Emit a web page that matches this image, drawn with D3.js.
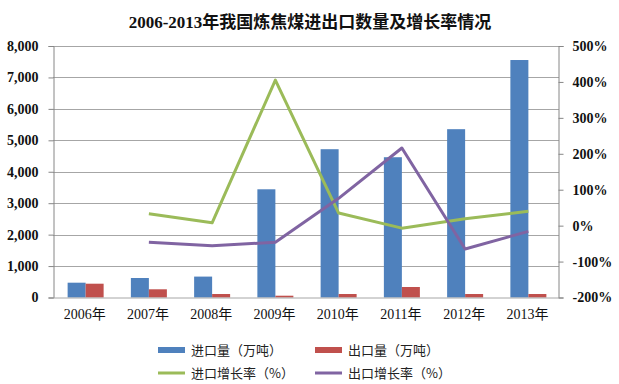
<!DOCTYPE html>
<html>
<head>
<meta charset="utf-8">
<script src="https://cdn.jsdelivr.net/npm/d3@7"></script>
<style>
  body { margin: 0; background: #fff; }
  svg { display: block; }
</style>
</head>
<body>
<div id="chart"></div>
<script>
var years = ["2006年", "2007年", "2008年", "2009年", "2010年", "2011年", "2012年", "2013年"];
var importVol = [471, 620, 665, 3442, 4717, 4462, 5354, 7554];
var exportVol = [439, 261, 111, 57, 111, 334, 111, 111];
var importGrowth = [null, 33, 8, 405, 35, -7, 19, 40];
var exportGrowth = [null, -46, -56, -46, 76, 216, -65, -16];
var leftTicks = [0, 1000, 2000, 3000, 4000, 5000, 6000, 7000, 8000];
var rightTicks = [-200, -100, 0, 100, 200, 300, 400, 500];

var width = 619, height = 384;
var margin = {top: 46, right: 60, bottom: 87, left: 53};

var svg = d3.select("#chart").append("svg")
    .attr("width", width)
    .attr("height", height);

var x = d3.scaleBand()
    .domain(years)
    .range([margin.left, width - margin.right]);

var yL = d3.scaleLinear()
    .domain([0, 8000])
    .range([height - margin.bottom + 0.5, margin.top]);

var yR = d3.scaleLinear()
    .domain([-200, 500])
    .range([height - margin.bottom + 0.5, margin.top]);

var barW = 18;

// title
svg.append("text")
    .attr("x", 310)
    .attr("y", 28)
    .attr("text-anchor", "middle")
    .attr("font-family", "'Liberation Serif', 'Noto Sans CJK SC', serif")
    .attr("font-weight", "bold")
    .attr("font-size", 17)
    .attr("fill", "#111")
    .text("2006-2013年我国炼焦煤进出口数量及增长率情况");

// gridlines
svg.append("g")
    .selectAll("line")
    .data(leftTicks.slice(1))
    .enter().append("line")
    .attr("x1", margin.left)
    .attr("x2", width - margin.right)
    .attr("y1", function(d) { return Math.round(yL(d)) + 0.5; })
    .attr("y2", function(d) { return Math.round(yL(d)) + 0.5; })
    .attr("stroke", "#a6a6a6")
    .attr("stroke-width", 1);

// bars
var bars = svg.append("g");
bars.selectAll(".imp")
    .data(importVol)
    .enter().append("rect")
    .attr("x", function(d, i) { return x(years[i]) + x.bandwidth() / 2 - barW + 1; })
    .attr("y", function(d) { return yL(d); })
    .attr("width", barW)
    .attr("height", function(d) { return yL(0) - yL(d); })
    .attr("fill", "#4f81bd");

bars.selectAll(".exp")
    .data(exportVol)
    .enter().append("rect")
    .attr("x", function(d, i) { return x(years[i]) + x.bandwidth() / 2 + 1; })
    .attr("y", function(d) { return yL(d); })
    .attr("width", barW)
    .attr("height", function(d) { return yL(0) - yL(d); })
    .attr("fill", "#c0504d");

// axes
var leftAxis = svg.append("g")
    .attr("transform", "translate(" + (margin.left + 0.5) + ",0)")
    .call(d3.axisLeft(yL).tickValues(leftTicks).tickSize(5).tickPadding(10)
        .tickFormat(d3.format(",")));

var rightAxis = svg.append("g")
    .attr("transform", "translate(" + (width - margin.right - 0.5) + ",0)")
    .call(d3.axisRight(yR).tickValues(rightTicks).tickSize(5).tickPadding(9)
        .tickFormat(function(d) { return d + "%"; }));

[leftAxis, rightAxis].forEach(function(a) {
    a.select(".domain").attr("stroke", "#868686");
    a.selectAll(".tick line").attr("stroke", "#868686");
    a.selectAll("text")
        .attr("font-family", "'Liberation Serif', serif")
        .attr("font-weight", "bold")
        .attr("font-size", 14)
        .attr("fill", "#111");
});

var bottomAxis = svg.append("g")
    .attr("transform", "translate(0," + (yL(0)) + ")")
    .call(d3.axisBottom(x).tickSize(0).tickPadding(12));
bottomAxis.select(".domain").attr("stroke", "#a6a6a6");
bottomAxis.selectAll("text")
    .attr("font-family", "'Liberation Serif', 'Noto Sans CJK SC', serif")
    .attr("font-size", 14)
    .attr("fill", "#111");

// lines
var line = d3.line()
    .defined(function(d) { return d != null; })
    .x(function(d, i) { return x(years[i]) + x.bandwidth() / 2 + 1; })
    .y(function(d) { return yR(d); });

svg.append("path")
    .datum(importGrowth)
    .attr("d", line)
    .attr("fill", "none")
    .attr("stroke", "#9bbb59")
    .attr("stroke-width", 3)
    .attr("stroke-linejoin", "round");

svg.append("path")
    .datum(exportGrowth)
    .attr("d", line)
    .attr("fill", "none")
    .attr("stroke", "#8064a2")
    .attr("stroke-width", 3)
    .attr("stroke-linejoin", "round");

// legend
var legendItems = [
    {name: "进口量（万吨）", color: "#4f81bd", type: "bar", x: 158, y: 350},
    {name: "出口量（万吨）", color: "#c0504d", type: "bar", x: 315, y: 350},
    {name: "进口增长率（%）", color: "#9bbb59", type: "line", x: 158, y: 373},
    {name: "出口增长率（%）", color: "#8064a2", type: "line", x: 315, y: 373}
];

var legend = svg.append("g")
    .selectAll("g")
    .data(legendItems)
    .enter().append("g")
    .attr("transform", function(d) { return "translate(" + d.x + "," + d.y + ")"; });

legend.append("rect")
    .attr("x", 0)
    .attr("y", function(d) { return d.type == "bar" ? -3 : -1.5; })
    .attr("width", 27)
    .attr("height", function(d) { return d.type == "bar" ? 6 : 3; })
    .attr("fill", function(d) { return d.color; });

legend.append("text")
    .attr("x", 33)
    .attr("y", 5)
    .attr("font-family", "'Noto Sans CJK SC', sans-serif")
    .attr("font-size", 13)
    .attr("fill", "#222")
    .text(function(d) { return d.name; });
</script>
</body>
</html>
